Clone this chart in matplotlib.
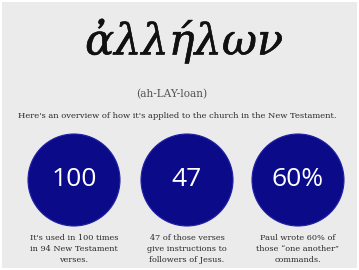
import matplotlib.pyplot as plt
import matplotlib.patheffects as pe
from matplotlib.patches import Circle, Rectangle

titulo = 'ἀλλήλων'
pronuncia = '(ah-LAY-loan)'
subtitulo = "Here's an overview of how it's applied to the church in the New Testament."
numeros = ['100', '47', '60%']
legendas = [
    "It's used in 100 times\nin 94 New Testament\nverses.",
    "47 of those verses\ngive instructions to\nfollowers of Jesus.",
    "Paul wrote 60% of\nthose \u201cone another\u201d\ncommands.",
]

fig = plt.figure(figsize=(3.59, 2.70), dpi=100)
fig.patch.set_facecolor('white')
ax = fig.add_axes([0, 0, 1, 1])
ax.set_xlim(0, 359)
ax.set_ylim(270, 0)
ax.axis('off')

# fundo cinza com borda branca fina
ax.add_patch(Rectangle((2, 2), 355, 266, facecolor='#ebebeb', edgecolor='none'))

ax.text(184, 41, titulo, fontsize=31, family='DejaVu Serif', style='italic',
        ha='center', va='center', color='#111111',
        path_effects=[pe.withStroke(linewidth=0.4, foreground='#111111')])
ax.text(172, 94, pronuncia, fontsize=7.6, family='DejaVu Serif',
        ha='center', va='center', color='#555555')
ax.text(177, 116, subtitulo, fontsize=6.0, family='DejaVu Serif',
        ha='center', va='center', color='#2a2a2a')

centros = [74, 187, 298]
for cx, num, leg in zip(centros, numeros, legendas):
    ax.add_patch(Circle((cx, 180), 46, facecolor='#0b0b8a', edgecolor='#2020a8', lw=0.8))
    ax.text(cx, 180, num, fontsize=19, family='Open Sans', color='white',
            ha='center', va='center')
    ax.text(cx, 249, leg, fontsize=5.9, family='DejaVu Serif', color='#2a2a2a',
            ha='center', va='center', linespacing=1.5)

fig.savefig('out.png', dpi=100, facecolor=fig.get_facecolor())
